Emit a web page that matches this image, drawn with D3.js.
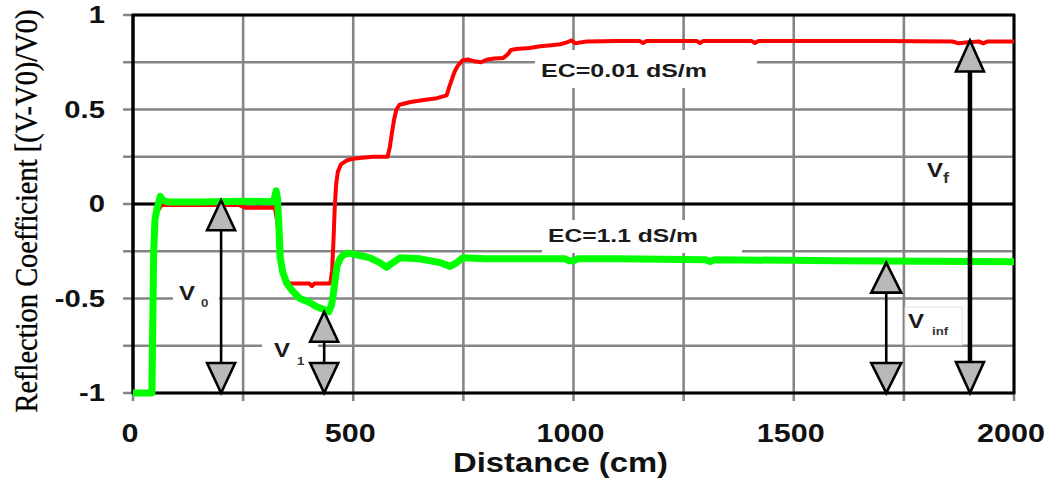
<!DOCTYPE html>
<html>
<head>
<meta charset="utf-8">
<script src="https://cdn.jsdelivr.net/npm/d3@7"></script>
<style>
  html, body { margin: 0; padding: 0; background: #fff; }
  svg { display: block; }
</style>
</head>
<body>
<svg id="chart" width="1049" height="482"></svg>
<script>
// ---------- data ----------
const xTickValues = [0, 500, 1000, 1500, 2000];
const yTickValues = [-1, -0.5, 0, 0.5, 1];
const xGridValues = [0, 250, 500, 750, 1000, 1250, 1500, 1750, 2000];
const yGridValues = [-1, -0.75, -0.5, -0.25, 0, 0.25, 0.5, 0.75, 1];
const yMajorValues = [-1, 0, 1];

const xTitle = "Distance (cm)";
const yTitle = "Reflection Coefficient [(V-V0)/V0)";

// EC = 0.01 dS/m (red)
const ec001Dist = [0, 42, 45, 47, 49, 52, 58, 65, 100, 200, 240, 255, 300, 322, 328, 333, 338, 345, 355, 380, 400, 406, 412, 420, 440, 448, 452, 455, 458, 461, 465, 472, 485, 500, 520, 545, 560, 578, 583, 588, 593, 598, 605, 630, 660, 690, 712, 718, 724, 730, 737, 748, 760, 775, 790, 805, 820, 840, 850, 858, 870, 900, 925, 950, 970, 985, 995, 1005, 1015, 1030, 1100, 1150, 1158, 1166, 1280, 1287, 1294, 1405, 1412, 1419, 1700, 1860, 1875, 1890, 1920, 1930, 1940, 2000];
const ec001Val  = [-1, -1, -0.7, -0.3, -0.1, -0.05, -0.03, -0.005, -0.005, -0.005, -0.005, -0.02, -0.02, -0.02, -0.1, -0.25, -0.35, -0.4, -0.42, -0.42, -0.42, -0.435, -0.42, -0.42, -0.42, -0.42, -0.35, -0.2, -0.02, 0.1, 0.17, 0.21, 0.23, 0.24, 0.245, 0.25, 0.25, 0.25, 0.3, 0.38, 0.45, 0.5, 0.525, 0.54, 0.55, 0.56, 0.575, 0.62, 0.66, 0.7, 0.73, 0.76, 0.765, 0.755, 0.75, 0.765, 0.77, 0.772, 0.79, 0.815, 0.82, 0.825, 0.835, 0.84, 0.845, 0.855, 0.865, 0.85, 0.855, 0.86, 0.862, 0.862, 0.852, 0.862, 0.862, 0.852, 0.862, 0.862, 0.852, 0.862, 0.862, 0.86, 0.85, 0.855, 0.86, 0.85, 0.86, 0.86];

// EC = 1.1 dS/m (green)
const ec11Dist = [0, 43, 45, 47, 50, 55, 62, 68, 80, 150, 250, 318, 322, 325, 328, 331, 334, 340, 349, 362, 379, 400, 418, 436, 444, 450, 454, 459, 463, 470, 477, 489, 510, 538, 560, 576, 590, 606, 650, 697, 720, 735, 749, 800, 980, 990, 1000, 1010, 1100, 1300, 1310, 1320, 1600, 2000];
const ec11Val  = [-1, -1, -0.6, -0.25, -0.08, -0.02, 0.04, 0.02, 0.01, 0.01, 0.015, 0.012, 0.04, 0.07, 0.03, -0.1, -0.28, -0.36, -0.42, -0.46, -0.5, -0.52, -0.545, -0.56, -0.57, -0.54, -0.49, -0.4, -0.33, -0.29, -0.27, -0.26, -0.27, -0.285, -0.31, -0.335, -0.31, -0.285, -0.29, -0.31, -0.33, -0.31, -0.285, -0.29, -0.29, -0.3, -0.3, -0.29, -0.29, -0.295, -0.305, -0.295, -0.3, -0.305];

// annotation arrows: x position, top value, bottom value
const arrowNames  = ["V0", "V1", "Vinf", "Vf"];
const arrowX      = [200, 434, 1710, 1900];
const arrowTop    = [0.02, -0.57, -0.31, 0.865];
const arrowBottom = [-1, -1, -1, -1];

// ---------- chart ----------
const svg = d3.select("#chart");
const x = d3.scaleLinear().domain([0, 2000]).range([133, 1014]);
const y = d3.scaleLinear().domain([-1, 1]).range([393, 15]);
const GRAY = "#858585";
const SANS = "'Liberation Sans', Arial, sans-serif";

function stretch(sel, factor) {
  sel.each(function () {
    const w = this.getComputedTextLength();
    d3.select(this).attr("textLength", w * factor).attr("lengthAdjust", "spacingAndGlyphs");
  });
}

const grid = svg.append("g");
// vertical gridlines (extend below as ticks)
grid.selectAll("line.v").data(xGridValues).join("line")
  .attr("x1", d => x(d)).attr("x2", d => x(d))
  .attr("y1", y(1)).attr("y2", y(-1) + 8)
  .attr("stroke", GRAY).attr("stroke-width", 2.6);
// horizontal gridlines (extend left as ticks)
grid.selectAll("line.h").data(yGridValues).join("line")
  .attr("x1", x(0) - 10).attr("x2", x(2000))
  .attr("y1", d => y(d)).attr("y2", d => y(d))
  .attr("stroke", GRAY).attr("stroke-width", 2.6);
// major black lines
grid.selectAll("line.m").data(yMajorValues).join("line")
  .attr("x1", x(0) - 1).attr("x2", x(2000) + 1)
  .attr("y1", d => y(d)).attr("y2", d => y(d))
  .attr("stroke", "#000").attr("stroke-width", 3);
grid.append("line").attr("x1", x(0)).attr("x2", x(0)).attr("y1", y(1) - 1).attr("y2", y(-1) + 1)
  .attr("stroke", "#000").attr("stroke-width", 3.4);
grid.append("line").attr("x1", x(2000)).attr("x2", x(2000)).attr("y1", y(1) - 1).attr("y2", y(-1) + 1)
  .attr("stroke", "#000").attr("stroke-width", 3);

// white label boxes (cover grid)
const boxes = [
  [535, 50, 222, 38],
  [542, 220, 200, 33],
  [173, 283, 46, 29],
  [262, 333, 56, 35]
];
svg.append("g").selectAll("rect").data(boxes).join("rect")
  .attr("x", d => d[0]).attr("y", d => d[1]).attr("width", d => d[2]).attr("height", d => d[3])
  .attr("fill", "#fff");
svg.append("rect").attr("x", 905).attr("y", 307).attr("width", 57).attr("height", 38)
  .attr("fill", "#fff").attr("stroke", "#e2e2e2").attr("stroke-width", 1);

// series lines
const line = d3.line().x(d => x(d[0])).y(d => y(d[1]));
const redData = ec001Dist.map((d, i) => [d, ec001Val[i]]);
const greenData = ec11Dist.map((d, i) => [d, ec11Val[i]]);
svg.append("path").datum(redData).attr("d", line)
  .attr("fill", "none").attr("stroke", "#ff0000").attr("stroke-width", 4)
  .attr("stroke-linejoin", "round").attr("stroke-linecap", "butt");
svg.append("path").datum(greenData).attr("d", line)
  .attr("fill", "none").attr("stroke", "#00ff00").attr("stroke-width", 7)
  .attr("stroke-linejoin", "round").attr("stroke-linecap", "butt");

// axes tick labels
const yLab = svg.append("g").selectAll("text").data(yTickValues).join("text")
  .attr("y", d => y(d)).attr("dy", "0.36em")
  .attr("font-family", SANS).attr("font-weight", "bold").attr("font-size", 23)
  .attr("fill", "#111").text(d => String(d));
stretch(yLab, 1.27);
yLab.attr("x", function () { return 105 - +this.getAttribute("textLength"); });

const xLab = svg.append("g").selectAll("text").data(xTickValues).join("text")
  .attr("y", 442)
  .attr("font-family", SANS).attr("font-weight", "bold").attr("font-size", 25)
  .attr("fill", "#111").text(d => String(d));
stretch(xLab, 1.22);
xLab.attr("x", function (d) { return x(d) - (+this.getAttribute("textLength")) / 2 - 3; });

// axis titles
svg.append("text").attr("y", 472)
  .attr("font-family", SANS).attr("font-weight", "bold").attr("font-size", 28)
  .attr("fill", "#111").text(xTitle)
  .attr("textLength", 215).attr("lengthAdjust", "spacingAndGlyphs")
  .attr("x", 453);

svg.append("text")
  .attr("transform", "translate(37,211) scale(1.2,1) rotate(-90)")
  .attr("text-anchor", "middle")
  .attr("font-family", "'Liberation Serif', 'Times New Roman', serif").attr("font-size", 26)
  .attr("fill", "#000").attr("stroke", "#000").attr("stroke-width", 0.3).text(yTitle)
  .attr("textLength", 403).attr("lengthAdjust", "spacingAndGlyphs");

// EC labels
svg.append("text").attr("x", 541).attr("y", 77)
  .attr("font-family", SANS).attr("font-weight", "bold").attr("font-size", 19)
  .attr("fill", "#1a1a1a").text("EC=0.01 dS/m")
  .attr("textLength", 166).attr("lengthAdjust", "spacingAndGlyphs");
svg.append("text").attr("x", 548).attr("y", 242)
  .attr("font-family", SANS).attr("font-weight", "bold").attr("font-size", 19)
  .attr("fill", "#1a1a1a").text("EC=1.1 dS/m")
  .attr("textLength", 150).attr("lengthAdjust", "spacingAndGlyphs");

// arrows
const arrows = svg.append("g");
arrowNames.forEach((name, i) => {
  const px = x(arrowX[i]);
  const t = y(arrowTop[i]);
  const b = y(arrowBottom[i]);
  const hw = name === "Vinf" ? 15 : 14;
  const hh = name === "Vf" ? 31 : 30;
  const sw = name === "Vf" ? 4.5 : 2.6;
  arrows.append("line").attr("x1", px).attr("x2", px).attr("y1", t + hh).attr("y2", b - hh)
    .attr("stroke", "#000").attr("stroke-width", sw);
  arrows.append("path")
    .attr("d", `M${px},${t} L${px - hw},${t + hh} L${px + hw},${t + hh} Z`)
    .attr("fill", "#b9b9b9").attr("stroke", "#000").attr("stroke-width", 2.6).attr("stroke-linejoin", "miter");
  arrows.append("path")
    .attr("d", `M${px},${b} L${px - hw},${b - hh} L${px + hw},${b - hh} Z`)
    .attr("fill", "#b9b9b9").attr("stroke", "#000").attr("stroke-width", 2.6).attr("stroke-linejoin", "miter");
});

// V labels
const vLabels = [
  { v: [179, 300], sub: "0", s: [201, 307], fs: 11 },
  { v: [274, 357], sub: "1", s: [297, 365], fs: 11 },
  { v: [908, 328], sub: "inf", s: [932, 335], fs: 11 },
  { v: [927, 177], sub: "f", s: [943, 183], fs: 15 }
];
vLabels.forEach(l => {
  svg.append("text").attr("x", l.v[0]).attr("y", l.v[1])
    .attr("font-family", SANS).attr("font-weight", "bold").attr("font-size", 20)
    .attr("fill", "#1a1a1a").text("V")
    .attr("textLength", 16).attr("lengthAdjust", "spacingAndGlyphs");
  const s = svg.append("text").attr("x", l.s[0]).attr("y", l.s[1])
    .attr("font-family", SANS).attr("font-weight", "bold").attr("font-size", l.fs)
    .attr("fill", "#333").text(l.sub);
  stretch(s, 1.2);
});
</script>
</body>
</html>
